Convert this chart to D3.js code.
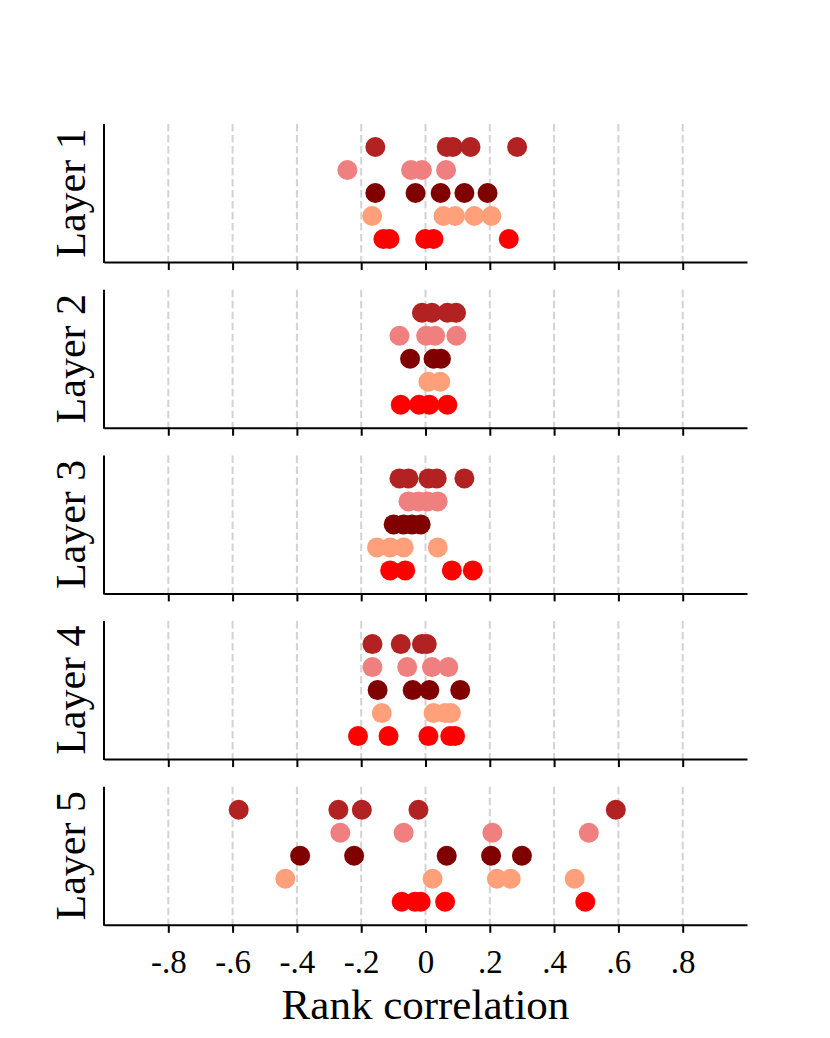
<!DOCTYPE html>
<html>
<head>
<meta charset="utf-8">
<script src="https://cdn.jsdelivr.net/npm/d3@7"></script>
<style>
  body { margin: 0; background: #fff; }
  svg { display: block; }
</style>
</head>
<body>
<div id="chart"></div>
<script>
// layers (one panel each)
const layers = ['Layer 1', 'Layer 2', 'Layer 3', 'Layer 4', 'Layer 5'];

// tick values and labels
const xTicks = [-0.8, -0.6, -0.4, -0.2, 0, 0.2, 0.4, 0.6, 0.8];
const xTickLabels = ['-.8', '-.6', '-.4', '-.2', '0', '.2', '.4', '.6', '.8'];

// series, one array per layer (row 0 = bottom)
const redVals = [
    [-0.131, -0.112, -0.001, 0.025, 0.259],
    [-0.077, -0.020, 0.012, 0.068],
    [-0.110, -0.063, 0.082, 0.147],
    [-0.210, -0.115, 0.009, 0.077, 0.092],
    [-0.074, -0.033, -0.015, 0.061, 0.497]
];
const salmonVals = [
    [-0.166, 0.056, 0.092, 0.152, 0.205],
    [0.009, 0.046],
    [-0.151, -0.110, -0.068, 0.038],
    [-0.136, 0.025, 0.061, 0.079],
    [-0.436, 0.022, 0.222, 0.265, 0.464]
];
const maroonVals = [
    [-0.156, -0.031, 0.047, 0.121, 0.193],
    [-0.048, 0.025, 0.048],
    [-0.099, -0.068, -0.042, -0.015],
    [-0.149, -0.040, 0.012, 0.108],
    [-0.390, -0.222, 0.066, 0.204, 0.300]
];
const coralVals = [
    [-0.243, -0.045, -0.011, 0.064],
    [-0.081, 0.002, 0.030, 0.096],
    [-0.053, -0.022, 0.006, 0.038],
    [-0.165, -0.057, 0.020, 0.071],
    [-0.265, -0.068, 0.208, 0.508]
];
const firebrickVals = [
    [-0.156, 0.066, 0.085, 0.140, 0.285],
    [-0.011, 0.020, 0.068, 0.095],
    [-0.081, -0.053, 0.009, 0.035, 0.121],
    [-0.165, -0.077, -0.011, 0.004],
    [-0.581, -0.271, -0.198, -0.022, 0.592]
];

const series = [redVals, salmonVals, maroonVals, coralVals, firebrickVals];
const colors = ['#ff0000', '#ffa07a', '#800000', '#f08080', '#b22222'];

//布局
const W = 830, H = 1038;
const left = 104, right = 747;
const top0 = 124, panelH = 138, step = 165.7;
const font = '"Liberation Serif", "Times New Roman", serif';

const svg = d3.select('#chart').append('svg')
    .attr('width', W).attr('height', H);

const x = d3.scaleLinear().domain([-1, 1]).range([left, right]);

layers.forEach((name, li) => {
    const y0 = top0 + li * step;
    const y = d3.scaleLinear().domain([-1, 5]).range([y0 + panelH, y0]);
    const g = svg.append('g');

    // grid
    g.selectAll('line.grid').data(xTicks).join('line')
        .attr('class', 'grid')
        .attr('x1', d => x(d)).attr('x2', d => x(d))
        .attr('y1', y0).attr('y2', y0 + panelH)
        .attr('stroke', '#d3d3d3').attr('stroke-width', 2)
        .attr('stroke-dasharray', '7.5,3.5');

    // dots
    series.forEach((s, si) => {
        g.selectAll(null).data(s[li]).join('circle')
            .attr('cx', d => x(d))
            .attr('cy', y(si))
            .attr('r', 10)
            .attr('fill', colors[si]);
    });

    // left spine
    g.append('line')
        .attr('x1', left).attr('x2', left)
        .attr('y1', y0).attr('y2', y0 + panelH + 1)
        .attr('stroke', '#000').attr('stroke-width', 2);

    // bottom axis
    const last = li === layers.length - 1;
    const axis = d3.axisBottom(x)
        .tickValues(xTicks)
        .tickSize(8)
        .tickSizeOuter(0)
        .tickPadding(17)
        .tickFormat((d, i) => last ? xTickLabels[i] : '');
    const ag = g.append('g')
        .attr('transform', `translate(0,${y0 + panelH})`)
        .call(axis);
    ag.select('.domain').attr('stroke-width', 2);
    ag.selectAll('.tick line').attr('stroke-width', 2);
    ag.selectAll('.tick text')
        .attr('font-family', font)
        .attr('font-size', 33)
        .attr('fill', '#000');

    // layer label
    g.append('text')
        .attr('transform', `translate(85,${y0 + panelH / 2}) rotate(-90)`)
        .attr('text-anchor', 'middle')
        .attr('font-family', font)
        .attr('font-size', 42)
        .text(name);
});

svg.append('text')
    .attr('x', (left + right) / 2)
    .attr('y', 1019)
    .attr('text-anchor', 'middle')
    .attr('font-family', font)
    .attr('font-size', 43)
    .text('Rank correlation');
</script>
</body>
</html>
